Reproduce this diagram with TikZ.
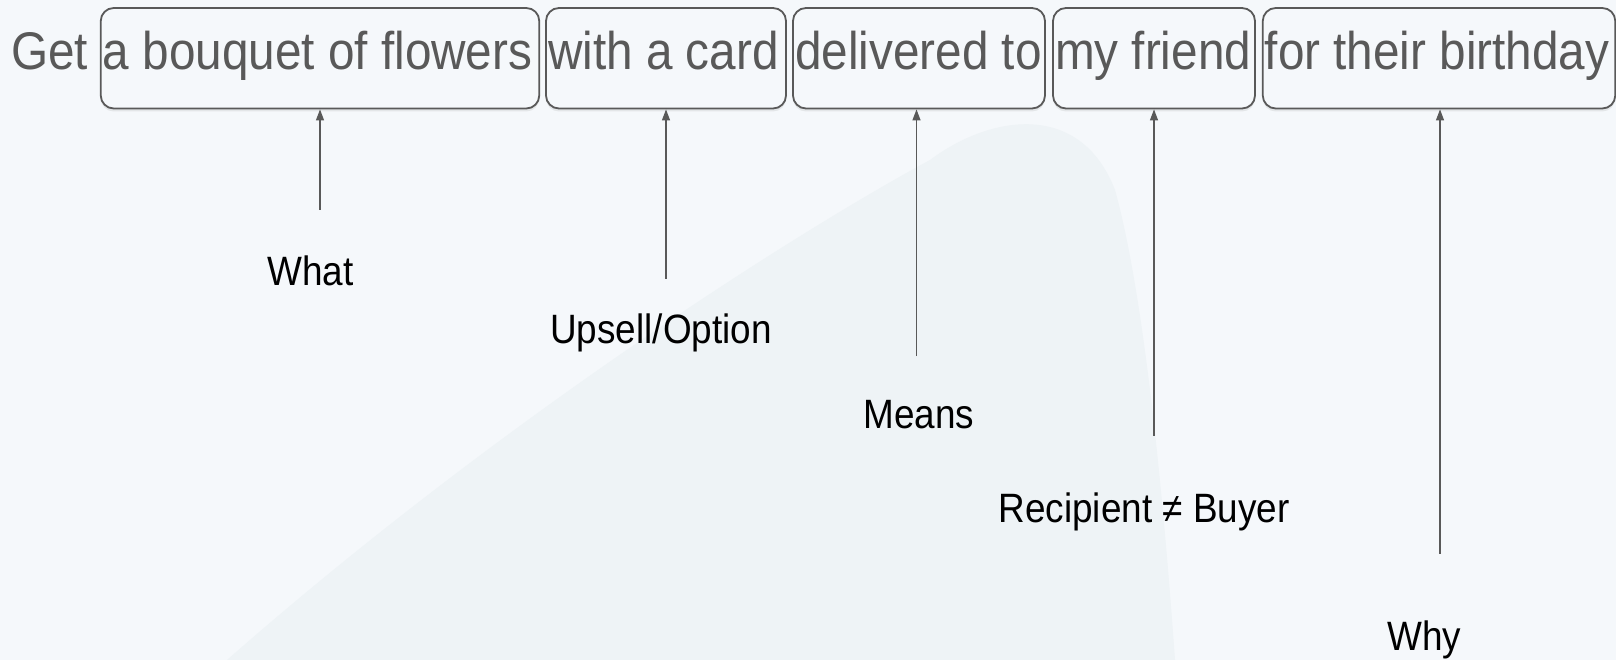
\documentclass[tikz,border=0pt]{standalone}
\usepackage{fontspec}
\setmainfont{Liberation Sans}[FakeStretch=0.9]
\usetikzlibrary{arrows.meta,shadows}
\definecolor{slidebg}{HTML}{F5F8FB}
\definecolor{slideshape}{HTML}{EEF3F6}
\definecolor{inkgray}{HTML}{595959}
\tikzset{
	phrase/.style={draw=inkgray, line width=1.8pt, rounded corners=13pt, fill=slidebg,
		text=inkgray, inner xsep=2pt, inner ysep=0pt, text height=62pt, text depth=38.5pt,
		align=flush left, anchor=base, font=\fontsize{53}{60}\selectfont,
		drop shadow={shadow xshift=0pt, shadow yshift=-3pt, opacity=.15}},
	role/.style={font=\fontsize{41}{48}\selectfont, anchor=base, inner sep=0pt},
	pointer/.style={draw=inkgray, line width=1.3pt, -{Triangle[length=11pt,width=8pt]}}
}
\begin{document}
\begin{tikzpicture}[x=1pt,y=-1pt]
			\useasboundingbox (0,0) rectangle (1616,660);
			\fill[slidebg] (0,0) rectangle (1616,660);
			% faint backdrop
			\fill[slideshape] (227,660) .. controls (500,420) and (800,230) .. (930,160)
				.. controls (990,115) and (1080,100) .. (1115,190)
				.. controls (1140,280) and (1160,450) .. (1175,660) -- cycle;
			\node[role, anchor=base west, text=inkgray, font=\fontsize{53}{60}\selectfont] (get) at (11,70) {Get};
			\foreach \key / \cx / \bw / \txt in
			{what/320/438.5/a bouquet of flowers, option/666/240/with a card,
				means/919/252/delivered to, whom/1154/202/my friend,
				why/1439/352.5/for their birthday}
			{
				\pgfmathsetmacro\tw{\bw-4}
				\node[phrase, text width=\tw pt] (\key) at (\cx,70) {\txt};
			}
			\foreach \key / \lx / \ly / \ax / \ay / \txt in
			{what/310.5/285/320/209.6/What, option/661/343/666/278.6/{Upsell/Option},
				means/919/428/916.5/356/Means, whom/1144/522/1154/435.7/Recipient ≠ Buyer,
				why/1424.5/650/1440/553.6/Why}
			{
				\node[role] (\key-label) at (\lx,\ly) {\txt};
				\coordinate (\key-tail) at (\ax,\ay);
				\draw[pointer] (\key-tail) -- (\key-tail |- \key.south);
			}
			\end{tikzpicture}
\end{document}
